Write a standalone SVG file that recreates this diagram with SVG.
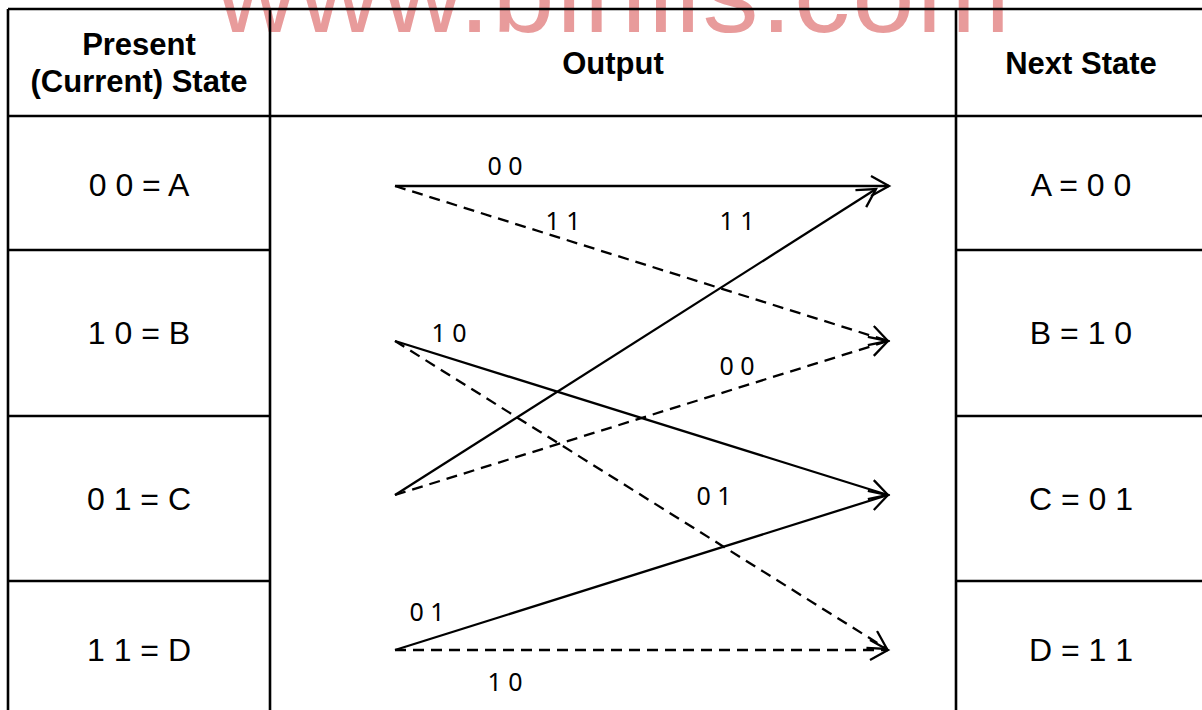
<svg xmlns="http://www.w3.org/2000/svg" width="1202" height="710" viewBox="0 0 1202 710">
<defs>
<style>
.grid{stroke:#000;stroke-width:2.6;fill:none}
.hd{font-family:"Liberation Sans",Arial,sans-serif;font-weight:bold;font-size:31px;fill:#000;text-anchor:middle}
.st{font-family:"Liberation Sans",Arial,sans-serif;font-size:32px;fill:#000;text-anchor:middle}
.lb{font-family:"Noto Sans","Open Sans",sans-serif;font-size:25px;fill:#000;text-anchor:middle}
.ln{stroke:#000;stroke-width:2.3;fill:none;marker-end:url(#ah)}
.dash{stroke-dasharray:11 7}
.wm{font-family:"Liberation Sans",Arial,sans-serif;font-size:112px;fill:#E89B9B}
</style>
<marker id="ah" markerUnits="userSpaceOnUse" markerWidth="24" markerHeight="24" refX="19" refY="11" orient="auto">
<path d="M1,1 L19,11 L1,21" fill="none" stroke="#000" stroke-width="2.3"/>
</marker>
</defs>
<rect width="1202" height="710" fill="#fff"/>
<text class="wm" x="216" y="32" textLength="794" lengthAdjust="spacing">www.binils.com</text>
<g id="table">
<path class="grid" d="M8,9 H1202 M8,116 H1202 M8,250 H270 M8,416 H270 M8,581 H270 M956,250 H1202 M956,416 H1202 M956,581 H1202 M8,9 V710 M270,9 V710 M956,9 V710"/>
</g>
<g id="hdr-present"><text class="hd" x="139" y="55">Present</text><text class="hd" x="139" y="92">(Current) State</text></g>
<g id="hdr-output"><text class="hd" x="613" y="74">Output</text></g>
<g id="hdr-next"><text class="hd" x="1081" y="74">Next State</text></g>
<g id="cur-A"><text class="st" x="139" y="196">0 0 = A</text></g>
<g id="cur-B"><text class="st" x="139" y="344">1 0 = B</text></g>
<g id="cur-C"><text class="st" x="139" y="510">0 1 = C</text></g>
<g id="cur-D"><text class="st" x="139" y="661">1 1 = D</text></g>
<g id="next-A"><text class="st" x="1081" y="196">A = 0 0</text></g>
<g id="next-B"><text class="st" x="1081" y="344">B = 1 0</text></g>
<g id="next-C"><text class="st" x="1081" y="510">C = 0 1</text></g>
<g id="next-D"><text class="st" x="1081" y="661">D = 1 1</text></g>
<g id="connectors">
<line class="ln" x1="395" y1="186" x2="889" y2="186"/>
<line class="ln dash" x1="395" y1="186" x2="888" y2="341"/>
<line class="ln" x1="395" y1="341" x2="888" y2="495"/>
<line class="ln dash" x1="395" y1="341" x2="887" y2="649"/>
<line class="ln" x1="395" y1="495" x2="876" y2="189"/>
<line class="ln dash" x1="395" y1="495" x2="888" y2="341"/>
<line class="ln" x1="395" y1="650" x2="888" y2="495"/>
<line class="ln dash" x1="395" y1="650" x2="888" y2="650"/>
</g>
<g id="labels">
<text class="lb" x="505" y="175">0 0</text>
<text class="lb" x="563" y="230">1 1</text>
<text class="lb" x="737" y="230">1 1</text>
<text class="lb" x="449" y="342">1 0</text>
<text class="lb" x="737" y="375">0 0</text>
<text class="lb" x="714" y="505">0 1</text>
<text class="lb" x="427" y="621">0 1</text>
<text class="lb" x="505" y="691">1 0</text>
</g>
</svg>
